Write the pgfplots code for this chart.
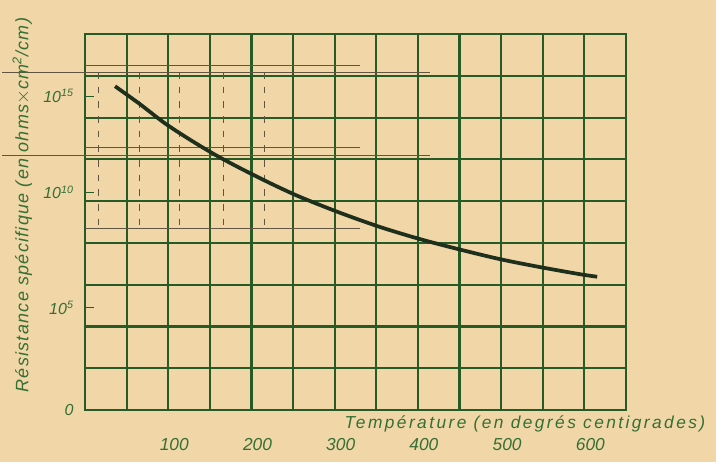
\documentclass[border=0pt]{standalone}
\usepackage{fontspec}
\setmainfont{Liberation Sans}
\usepackage{pgfplots}
\pgfplotsset{compat=1.18}
\definecolor{paper}{RGB}{241,214,168}
\definecolor{gridgreen}{RGB}{38,90,38}
\definecolor{inkgreen}{RGB}{52,112,52}
\definecolor{curvecol}{RGB}{30,48,28}
\definecolor{pencil}{RGB}{95,85,65}

\begin{document}
\begin{tikzpicture}
\fill[paper] (-63.75pt,-39pt) rectangle (473.25pt,307.5pt);
\begin{axis}[
    at={(0,0)}, anchor=south west,
    scale only axis, width=405.75pt, height=282pt,
    xmin=0, xmax=650, ymin=0, ymax=9,
    clip=false,
    axis line style={gridgreen, line width=1.6pt},
    minor xtick={0,50,...,650},
    minor ytick={0,1,...,9},
    grid=minor,
    minor grid style={gridgreen, line width=1.6pt},
    xtick={100,200,...,600},
    ytick={0,2.45,5.21,7.51},
    yticklabels={0, 10\textsuperscript{5}, 10\textsuperscript{10}, 10\textsuperscript{15}},
    tick pos=left,
    xtick style={draw=none},
    ytick style={gridgreen, line width=1.1pt},
    tick align=inside,
    major tick length=7pt, minor tick length=0pt,
    /pgf/number format/assume math mode=true,
    xticklabel style={font=\itshape\fontsize{13}{13}\selectfont, text=inkgreen,
        anchor=center, yshift=-26pt, xshift=4.5pt},
    yticklabel style={font=\itshape\fontsize{12}{12}\selectfont, text=inkgreen, xshift=-5pt},
    xlabel={Température (en degrés centigrades)},
    xlabel style={font=\itshape\fontsize{13}{13}\selectfont\addfontfeature{LetterSpace=14}, text=inkgreen,
        at={(axis description cs:1,0)}, anchor=north east, xshift=63pt, yshift=-1pt},
    ylabel={Résistance spécifique (en ohms$\times$cm\textsuperscript{2}/cm)},
    ylabel style={font=\itshape\fontsize{13.5}{13.5}\selectfont\addfontfeature{LetterSpace=7}, text=inkgreen,
        at={(axis description cs:-0.116,0.545)}, anchor=center},
]
% faint pencil construction lines
\draw[pencil, line width=0.4pt] (axis cs:0,8.26) -- (axis cs:330,8.26);
\draw[pencil, line width=0.4pt] (axis cs:-100,8.09) -- (axis cs:415,8.09);
\draw[pencil, line width=0.4pt] (axis cs:0,6.29) -- (axis cs:330,6.29);
\draw[pencil, line width=0.4pt] (axis cs:-100,6.10) -- (axis cs:415,6.10);
\draw[pencil, line width=0.4pt] (axis cs:0,4.34) -- (axis cs:330,4.34);
\foreach \xx in {15.6,65,113,166,215} {
  \edef\tmp{\noexpand\draw[pencil, line width=0.4pt, dash pattern=on 5pt off 6pt] (axis cs:\xx,8.09) -- (axis cs:\xx,4.34);}
  \tmp
}
\addplot[curvecol, line width=2.8pt, smooth, tension=0.5] coordinates {
  (36.1,7.75) (66.1,7.32) (96.2,6.86) (126.2,6.47) (156.3,6.11) (186.3,5.79)
  (222.4,5.43) (258.4,5.10) (306.5,4.72) (354.6,4.38) (402.6,4.09) (450.7,3.84)
  (498.8,3.61) (546.9,3.42) (594.9,3.25) (615.4,3.19)
};
\end{axis}
\pgfresetboundingbox
\useasboundingbox (-63.75pt,-39pt) rectangle (473.25pt,307.5pt);
\end{tikzpicture}
\end{document}
